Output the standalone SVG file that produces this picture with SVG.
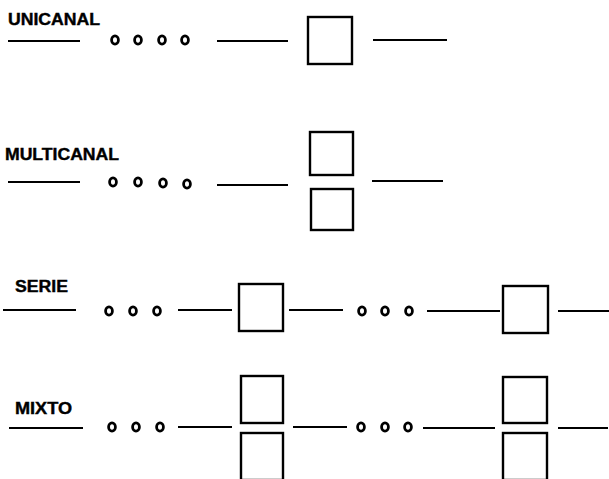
<svg xmlns="http://www.w3.org/2000/svg" width="609" height="479" viewBox="0 0 609 479">
<style>
.lbl{font-family:"Liberation Sans",Arial,sans-serif;font-weight:bold;font-size:16px;fill:#000;stroke:#000;stroke-width:0.4}
.ln{stroke:#000;stroke-width:2.2;fill:none}
.box{stroke:#000;stroke-width:2.4;fill:#fff}
.dot{stroke:#000;stroke-width:2.8;fill:#fff}
</style>
<rect width="609" height="479" fill="#fff"/>
<g id="unicanal">
<text class="lbl" x="8" y="25" textLength="92" lengthAdjust="spacingAndGlyphs">UNICANAL</text>
<ellipse class="dot" cx="115" cy="40" rx="3.4" ry="4.2"/>
<ellipse class="dot" cx="138" cy="40" rx="3.4" ry="4.2"/>
<ellipse class="dot" cx="162" cy="40" rx="3.4" ry="4.2"/>
<ellipse class="dot" cx="185" cy="40" rx="3.4" ry="4.2"/>
<rect class="box" x="308" y="17" width="44" height="47"/>
</g>
<g id="multicanal">
<text class="lbl" x="5" y="160" textLength="114" lengthAdjust="spacingAndGlyphs">MULTICANAL</text>
<ellipse class="dot" cx="113" cy="182" rx="3.4" ry="4.2"/>
<ellipse class="dot" cx="138" cy="182" rx="3.4" ry="4.2"/>
<ellipse class="dot" cx="163" cy="183" rx="3.4" ry="4.2"/>
<ellipse class="dot" cx="187" cy="184" rx="3.4" ry="4.2"/>
<rect class="box" x="310" y="132" width="43" height="43"/>
<rect class="box" x="311" y="189" width="42" height="41"/>
</g>
<g id="serie">
<text class="lbl" x="15" y="292" textLength="53" lengthAdjust="spacingAndGlyphs">SERIE</text>
<ellipse class="dot" cx="109" cy="311" rx="3.4" ry="4.2"/>
<ellipse class="dot" cx="133" cy="311" rx="3.4" ry="4.2"/>
<ellipse class="dot" cx="157" cy="311" rx="3.4" ry="4.2"/>
<rect class="box" x="239" y="284" width="44" height="47"/>
<ellipse class="dot" cx="362" cy="311" rx="3.4" ry="4.2"/>
<ellipse class="dot" cx="385" cy="311" rx="3.4" ry="4.2"/>
<ellipse class="dot" cx="409" cy="311" rx="3.4" ry="4.2"/>
<rect class="box" x="503" y="286" width="45" height="47"/>
</g>
<g id="mixto">
<text class="lbl" x="15" y="414" textLength="57" lengthAdjust="spacingAndGlyphs">MIXTO</text>
<ellipse class="dot" cx="112" cy="427" rx="3.4" ry="4.2"/>
<ellipse class="dot" cx="136" cy="427" rx="3.4" ry="4.2"/>
<ellipse class="dot" cx="160" cy="427" rx="3.4" ry="4.2"/>
<rect class="box" x="241" y="376" width="42" height="47"/>
<rect class="box" x="241" y="433" width="42" height="47"/>
<ellipse class="dot" cx="361" cy="427" rx="3.4" ry="4.2"/>
<ellipse class="dot" cx="385" cy="427" rx="3.4" ry="4.2"/>
<ellipse class="dot" cx="408" cy="427" rx="3.4" ry="4.2"/>
<rect class="box" x="503" y="377" width="44" height="46"/>
<rect class="box" x="503" y="433" width="44" height="47"/>
</g>
<g id="connectors">
<line class="ln" x1="8" y1="41" x2="80" y2="41"/>
<line class="ln" x1="217" y1="41" x2="288" y2="41"/>
<line class="ln" x1="373" y1="40" x2="447" y2="40"/>
<line class="ln" x1="8" y1="182" x2="80" y2="182"/>
<line class="ln" x1="217" y1="185" x2="288" y2="185"/>
<line class="ln" x1="372" y1="181" x2="443" y2="181"/>
<line class="ln" x1="3" y1="310" x2="76" y2="310"/>
<line class="ln" x1="178" y1="310" x2="232" y2="310"/>
<line class="ln" x1="289" y1="310" x2="343" y2="310"/>
<line class="ln" x1="427" y1="311" x2="500" y2="311"/>
<line class="ln" x1="558" y1="311" x2="609" y2="311"/>
<line class="ln" x1="9" y1="428" x2="83" y2="428"/>
<line class="ln" x1="178" y1="427" x2="232" y2="427"/>
<line class="ln" x1="293" y1="427" x2="347" y2="427"/>
<line class="ln" x1="423" y1="428" x2="495" y2="428"/>
<line class="ln" x1="558" y1="428" x2="608" y2="428"/>
</g>
</svg>
